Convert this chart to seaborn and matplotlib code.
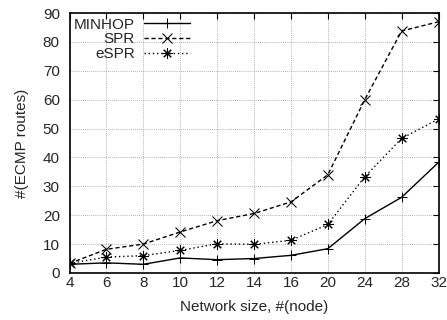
import numpy as np, pandas as pd
import seaborn as sns, matplotlib.pyplot as plt

# ────────── data ──────────
SIZES  = [4, 6, 8, 10, 12, 14, 16, 20, 24, 28, 32]
MINHOP = [3.0, 3.5, 3.0, 5.2, 4.6, 5.0, 6.1, 8.4, 18.8, 26.2, 38.3]
SPR    = [3.3, 8.2, 10.0, 14.2, 18.1, 20.6, 24.6, 34.0, 60.0, 83.8, 87.0]
ESPR   = [3.3, 5.5, 6.0, 7.8, 10.1, 9.9, 11.3, 16.8, 33.3, 46.6, 53.3]
METHODS = ['MINHOP', 'SPR', 'eSPR']

df = pd.DataFrame({
    'size'  : [str(s) for s in SIZES] * 3,
    'routes': MINHOP + SPR + ESPR,
    'method': np.repeat(METHODS, len(SIZES)),
})

sns.set_style("white")
plt.rcParams['font.family'] = ['Liberation Sans', 'DejaVu Sans']
FS = 11

fig = plt.figure(figsize=(4.47, 3.2), dpi=100)
ax = fig.add_axes([0.1555, 0.147, 0.8255, 0.812])

markers = ['+', 'x', (8, 2, 0)]
styles  = ['-', (0, (3, 2)), (0, (1, 2))]
sns.pointplot(data=df, x='size', y='routes', hue='method', order=[str(s) for s in SIZES],
              hue_order=METHODS, palette=['black']*3, markers=markers, linestyles=styles,
              errorbar=None, markersize=7.5, linewidth=1.0, ax=ax)

ax.set_xlim(0, len(SIZES)-1)
ax.set_ylim(0, 90)
ax.set_yticks(range(0, 91, 10))
ax.grid(True, color='#999999', linestyle=(0, (1, 1.5)), linewidth=0.6)
ax.tick_params(direction='in', top=True, right=True, length=4, labelsize=FS,
               color='black')
ax.tick_params(axis='y', pad=7)
ax.tick_params(axis='x', pad=2.5)
for sp in ax.spines.values():
    sp.set_color('black'); sp.set_linewidth(1.2)
ax.set_xlabel("Network size, #(node)", fontsize=FS, labelpad=7)
ax.set_ylabel("#(ECMP routes)", fontsize=FS, labelpad=10)

h, l = ax.get_legend_handles_labels()
ax.legend(h, l, loc='upper left', markerfirst=False, frameon=False, fontsize=FS,
          handlelength=3, borderaxespad=0.1, borderpad=0.2, labelspacing=0.05,
          handletextpad=0.6)

plt.savefig("out.png", dpi=100)
